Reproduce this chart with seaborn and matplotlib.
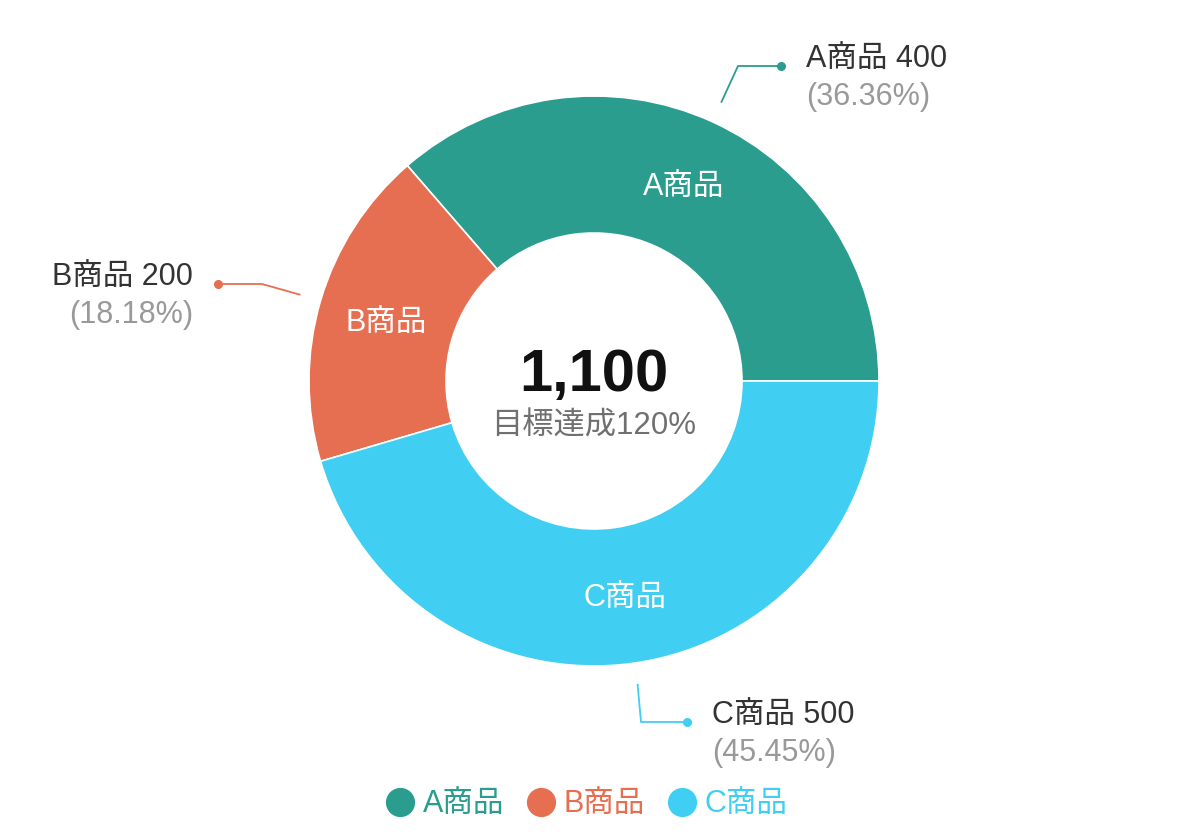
import numpy as np
import seaborn as sns
import matplotlib.pyplot as plt
from matplotlib.lines import Line2D

# データ
products = ["A商品", "B商品", "C商品"]
sales = [400, 200, 500]
colors = ["#2a9d8f", "#e76f51", "#40cff2"]
center_title = "1,100"
center_sub = "目標達成120%"

sns.set_theme(style="white")
plt.rcParams["font.family"] = ["Liberation Sans", "Noto Sans CJK JP", "DejaVu Sans"]

W, H = 1192, 838
fig = plt.figure(figsize=(W / 100, H / 100), dpi=100)
ax = fig.add_axes([0, 0, 1, 1])

cx, cy, r_out, r_in = 594, H - 381, 285, 148
total = sum(sales)
pal = sns.color_palette(colors)

wedges, _ = ax.pie(sales, colors=pal, startangle=0, counterclock=True,
                   center=(cx, cy), radius=r_out, frame=True,
                   wedgeprops=dict(width=r_out - r_in, edgecolor="white", linewidth=1.2))
ax.set_xlim(0, W)
ax.set_ylim(0, H)
ax.set_aspect("auto")
ax.axis("off")

# 扇形内のラベル
r_mid = (r_out + r_in) / 2
for w, name in zip(wedges, products):
    ang = np.deg2rad((w.theta1 + w.theta2) / 2)
    ax.text(cx + r_mid * np.cos(ang), cy + r_mid * np.sin(ang) - 4, name,
            color="white", fontsize=22, ha="center", va="center")

# 引き出し線とラベル
label_pos = [  # (折れ点, 端点, テキストx, 揃え)
    ((738, 66), (781, 66), 806, "left"),
    ((262, 284), (218, 284), 193, "right"),
    ((641, 722), (687, 722), 712, "left"),
]
for w, name, val, col, (knee, end, tx, ha) in zip(wedges, products, sales, colors, label_pos):
    ang = np.deg2rad((w.theta1 + w.theta2) / 2)
    sx, sy = cx + (r_out + 21) * np.cos(ang), cy + (r_out + 21) * np.sin(ang)
    kx, ky = knee[0], H - knee[1]
    ex, ey = end[0], H - end[1]
    ax.plot([sx, kx, ex], [sy, ky, ey], color=col, lw=1.3, solid_capstyle="butt")
    ax.plot(ex, ey, "o", color=col, ms=5.5)
    ax.text(tx, ey + 6, f"{name} {val}", color="#333333", fontsize=22, ha=ha, va="center")
    ax.text(tx, ey - 31, f"({val / total * 100:.2f}%)", color="#999999", fontsize=22, ha=ha, va="center")

# 中央テキスト
ax.text(cx, H - 376, center_title, fontsize=43, fontweight="bold", color="#111111",
        ha="center", va="center")
ax.text(cx, H - 427, center_sub, fontsize=22.5, color="#707070", ha="center", va="center")

# 凡例
handles = [Line2D([0], [0], marker="o", linestyle="", markersize=20,
                  markerfacecolor=c, markeredgecolor=c) for c in colors]
leg = ax.legend(handles, products, loc="center", bbox_to_anchor=(586 / W, 1 - 805 / H),
                ncol=3, frameon=False, fontsize=22, handletextpad=0.25,
                columnspacing=0.7, handlelength=1.0, labelcolor=colors)

fig.savefig("out.png", dpi=100)
